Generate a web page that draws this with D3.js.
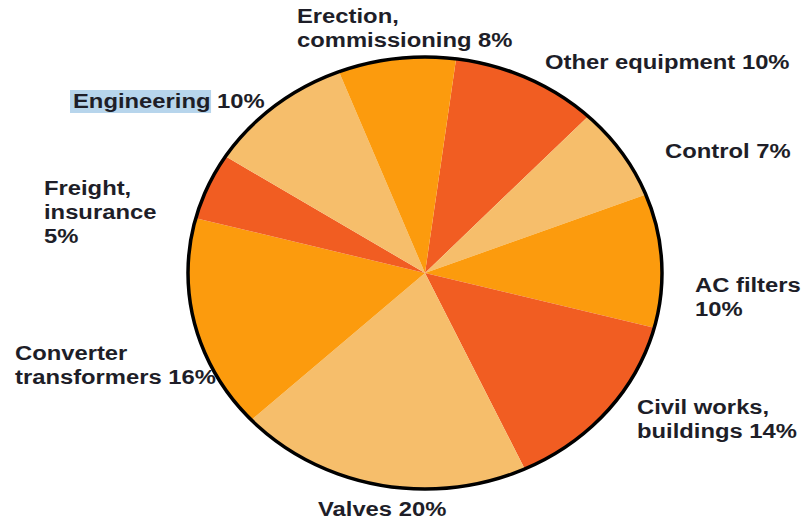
<!DOCTYPE html>
<html>
<head>
<meta charset="utf-8">
<script src="https://cdn.jsdelivr.net/npm/d3@7"></script>
<style>
  html, body { margin: 0; padding: 0; background: #fff; }
  svg { display: block; }
  .lbl { font-family: "Liberation Sans", Arial, sans-serif; font-weight: bold; font-size: 20px; fill: #1e1e28; }
</style>
</head>
<body>
<svg id="chart" width="802" height="522"></svg>
<script>
// Cost breakdown categories (clockwise from the top)
const categories = [
  "Other equipment", "Control", "AC filters", "Civil works, buildings",
  "Valves", "Converter transformers", "Freight, insurance", "Engineering",
  "Erection, commissioning"
];
const shares = [10, 7, 10, 14, 20, 16, 5, 10, 8];
const valueLabels = ["10%", "7%", "10%", "14%", "20%", "16%", "5%", "10%", "8%"];

// Three-tone palette cycled around the pie
const palette = ["#F15D22", "#F6BE6B", "#FC9B0D"];

const svg = d3.select("#chart");
const cx = 425, cy = 273, rx = 237, ry = 216;

const start = 7.5 * Math.PI / 180;
const pie = d3.pie().sort(null).startAngle(start).endAngle(start + 2 * Math.PI);
const arcs = pie(shares);
const arc = d3.arc().innerRadius(0).outerRadius(1);

const color = d3.scaleOrdinal().domain(categories).range(palette);

const g = svg.append("g").attr("transform", `translate(${cx},${cy}) scale(${rx},${ry})`);
g.selectAll("path")
  .data(arcs)
  .join("path")
  .attr("d", arc)
  .attr("fill", (d, i) => color(categories[i]));

// Outline around the whole pie
svg.append("ellipse")
  .attr("cx", cx).attr("cy", cy).attr("rx", rx).attr("ry", ry)
  .attr("fill", "none").attr("stroke", "#000").attr("stroke-width", 3.5);

// Label layout: text lines, anchor position (left x, first baseline)
const lineH = 24;
const layout = {
  "Erection, commissioning": { x: 297, y: 23, lines: ["Erection,", "commissioning {v}"] },
  "Other equipment": { x: 545, y: 69, lines: ["Other equipment {v}"] },
  "Control": { x: 665, y: 158, lines: ["Control {v}"] },
  "AC filters": { x: 695, y: 292, lines: ["AC filters", "{v}"] },
  "Civil works, buildings": { x: 637, y: 414, lines: ["Civil works,", "buildings {v}"] },
  "Valves": { x: 318, y: 516, lines: ["Valves {v}"] },
  "Converter transformers": { x: 15, y: 360, lines: ["Converter", "transformers {v}"] },
  "Freight, insurance": { x: 44, y: 195, lines: ["Freight,", "insurance", "{v}"] },
  "Engineering": { x: 73, y: 108, lines: ["Engineering {v}"], highlight: "Engineering" }
};

const stretch = 1.19;

categories.forEach((c, i) => {
  const L = layout[c];
  const grp = svg.append("g").attr("transform", `translate(${L.x},${L.y}) scale(${stretch},1)`);
  if (L.highlight) {
    const probe = grp.append("text").attr("class", "lbl").text(L.highlight);
    const w = probe.node().getComputedTextLength();
    probe.remove();
    grp.append("rect").attr("x", -2.5).attr("y", -18).attr("width", w + 3).attr("height", 23)
      .attr("fill", "#B7D5EC");
  }
  L.lines.forEach((t, k) => {
    grp.append("text").attr("class", "lbl")
      .attr("x", 0).attr("y", k * lineH)
      .text(t.replace("{v}", valueLabels[i]));
  });
});
</script>
</body>
</html>
